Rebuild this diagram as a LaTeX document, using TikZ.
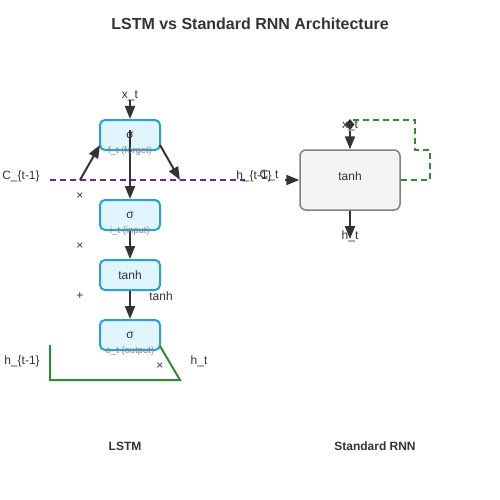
\documentclass[tikz,border=0pt]{standalone}
\usepackage{fontspec}
\setmainfont{Liberation Sans}
\usetikzlibrary{arrows.meta}
\definecolor{txtc}{HTML}{333333}
\definecolor{subc}{HTML}{888888}
\definecolor{lfill}{HTML}{E1F5FE}
\definecolor{lstroke}{HTML}{2A9FDA}
\definecolor{rfill}{HTML}{F4F4F4}
\definecolor{rstroke}{HTML}{808080}
\definecolor{purp}{HTML}{7B1FA2}
\definecolor{grn}{HTML}{2E8B36}
\tikzset{
  lbox/.style={draw=lstroke, fill=lfill, line width=2pt, rounded corners=5pt, minimum width=60pt, minimum height=30pt, inner sep=0pt},
  rbox/.style={draw=rstroke, fill=rfill, line width=1.5pt, rounded corners=6pt, minimum width=100pt, minimum height=60pt, inner sep=0pt},
  txt/.style={text=txtc, font=\fontsize{12}{14}\selectfont, inner sep=0pt},
  subtxt/.style={text=subc, font=\fontsize{9.5}{11}\selectfont, inner sep=0pt},
  boldtxt/.style={text=txtc, font=\bfseries\fontsize{12}{14}\selectfont, inner sep=0pt},
  arr/.style={draw=txtc, line width=2pt, -{Triangle[length=13pt,width=10pt]}},
  purpdash/.style={draw=purp, line width=2pt, dash pattern=on 6pt off 4pt},
  grnline/.style={draw=grn, line width=2pt},
  grndash/.style={draw=grn, line width=2pt, dash pattern=on 6pt off 4pt, -{Diamond[length=11pt,width=9pt,color=txtc]}},
}
\begin{document}
\begin{tikzpicture}[x=1pt,y=-1pt]
\useasboundingbox (0,0) rectangle (500,500);
% title
\node[text=txtc, font=\bfseries\fontsize{16}{19}\selectfont, inner sep=0pt] (title) at (250,24) {LSTM vs Standard RNN Architecture};

% LSTM boxes
\node[lbox] (f) at (130,135) {};
\node[lbox] (i) at (130,215) {};
\node[lbox] (g) at (130,275) {};
\node[lbox] (o) at (130,335) {};

% coordinates
\coordinate (xtop) at (130,100);
\coordinate (fc) at (130,130);
\coordinate (cl) at (50,180);
\coordinate (cr) at (245,180);
\coordinate (a1) at (80,180);
\coordinate (f1) at (100,145);
\coordinate (f2) at (160,145);
\coordinate (a2) at (180,180);
\coordinate (g1) at (50,345);
\coordinate (g2) at (50,380);
\coordinate (g3) at (180,380);
\coordinate (g4) at (160,346);

% purple cell state line
\draw[purpdash] (cl) -- (cr);

% green line
\draw[grnline] (g1) -- (g2) -- (g3) -- (g4);

% arrows LSTM
\draw[arr] (xtop) -- (f.north);
\draw[arr] (fc) -- (i.north);
\draw[arr] (i.south) -- (g.north);
\draw[arr] (g.south) -- (o.north);
\draw[arr] (a1) -- (f1);
\draw[arr] (f2) -- (a2);

% box texts
\node[txt] (fs) at (130,135) {σ};
\node[txt] (is) at (130,215) {σ};
\node[txt] (gs) at (130,275) {tanh};
\node[txt] (os) at (130,335) {σ};
\node[subtxt] (fl) at (130,151) {f\_t (forget)};
\node[subtxt] (il) at (130,231) {i\_t (input)};
\node[subtxt] (ol) at (130,351) {o\_t (output)};

% LSTM labels
\node[txt] (xt) at (130,96) {x\_t};
\node[txt] (ct1) at (21,176) {C\_\{t-1\}};
\node[txt] (m1) at (80,196) {×};
\node[txt] (m2) at (80,246) {×};
\node[txt] (p1) at (80,296) {+};
\node[txt] (th) at (161,296) {tanh};
\node[txt] (ht1) at (22,361) {h\_\{t-1\}};
\node[txt] (ht) at (199,361) {h\_t};
\node[txt] (m3) at (160,366) {×};
\node[boldtxt] (lstm) at (125,446) {LSTM};

% RNN
\node[rbox] (r) at (350,180) {};
\node[txt] (rt) at (350,176) {tanh};
\coordinate (rin) at (285,180);
\coordinate (rx) at (350,131);
\coordinate (rd) at (350,130);
\coordinate (rh) at (350,239);
\coordinate (l1) at (430,180);
\coordinate (l2) at (430,150);
\coordinate (l3) at (415,150);
\coordinate (l4) at (415,120);
\coordinate (l5) at (350,120);
\draw[grndash] (r.east) -- (l1) -- (l2) -- (l3) -- (l4) -- (l5) -- (rd);
\draw[arr] (rx) -- (r.north);
\draw[arr] (r.south) -- (rh);
\draw[arr] (rin) -- (r.west);
\node[txt] (rxt) at (350,126) {x\_t};
\node[txt] (rht) at (350,236) {h\_t};
\node[txt] (hm1) at (254,176) {h\_\{t-1\}};
\node[txt] (ctl) at (269,176) {C\_t};
\node[boldtxt] (rnn) at (375,446) {Standard RNN};
\end{tikzpicture}
\end{document}
